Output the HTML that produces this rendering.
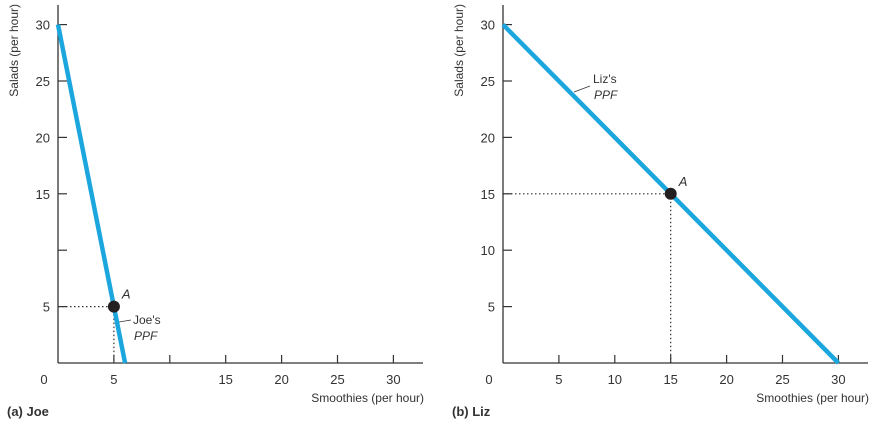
<!DOCTYPE html>
<html><head><meta charset="utf-8"><style>
body{margin:0;background:#fff}
svg text{font-family:"Liberation Sans",sans-serif;fill:#333}
</style></head><body>
<svg width="875" height="428" viewBox="0 0 875 428">
<g id="g"></g>
</svg>
<script>
const joeXTicks=[5,10,15,20,25,30];
const joeXLabels=["5","","15","20","25","30"];
const joeYTicks=[5,10,15,20,25,30];
const joeYLabels=["5","","15","20","25","30"];
const joePPF=[[0,30],[6,0]];
const joePoint=[5,5];
const lizXTicks=[5,10,15,20,25,30];
const lizXLabels=["5","10","15","20","25","30"];
const lizYTicks=[5,10,15,20,25,30];
const lizYLabels=["5","10","15","20","25","30"];
const lizPPF=[[0,30],[30,0]];
const lizPoint=[15,15];
const NS="http://www.w3.org/2000/svg";
const g=document.getElementById('g');
function mk(tag,attrs,parent){const e=document.createElementNS(NS,tag);for(const k in attrs)e.setAttribute(k,attrs[k]);(parent||g).appendChild(e);return e;}
function panel(p,ox,xend,xTicks,xLabels,yTicks,yLabels,ppf,pt,title,name,lbl){
  const oy=363,kx=11.18,ky=11.28;
  const X=v=>ox+v*kx, Y=v=>oy-v*ky;
  const grp=mk('g',{});
  
  
  const ya=mk('line',{x1:ox,y1:5,x2:ox,y2:oy,stroke:'#333','stroke-width':1.3},grp);
  
  const xa=mk('line',{x1:ox,y1:oy,x2:xend,y2:oy,stroke:'#333','stroke-width':1.3},grp);
  
  xTicks.forEach((v,i)=>{
    mk('line',{x1:X(v),y1:oy,x2:X(v),y2:oy-8,stroke:'#333','stroke-width':1.2},grp);
    const t=mk('text',{x:X(v),y:384,'text-anchor':'middle','font-size':13},grp);t.textContent=xLabels[i];
    
  });
  yTicks.forEach((v,i)=>{
    mk('line',{x1:ox,y1:Y(v),x2:ox+9,y2:Y(v),stroke:'#333','stroke-width':1.2},grp);
    const t=mk('text',{x:ox-8,y:Y(v)+5,'text-anchor':'end','font-size':13},grp);t.textContent=yLabels[i];
    
  });
  const z=mk('text',{x:ox-14,y:384,'text-anchor':'middle','font-size':13},grp);z.textContent='0';
  
  const xt=mk('text',{x:xend+1,y:402,'text-anchor':'end','font-size':12},grp);xt.textContent='Smoothies (per hour)';
  
  const yt=mk('text',{x:0,y:0,'text-anchor':'end','font-size':12,transform:`translate(${ox-40},4) rotate(-90)`},grp);yt.textContent='Salads (per hour)';
  
  const d1=mk('line',{x1:ox,y1:Y(pt[1]),x2:X(pt[0]),y2:Y(pt[1]),stroke:'#333','stroke-width':1.2,'stroke-dasharray':'1.5,2.5'},grp);
  
  const d2=mk('line',{x1:X(pt[0]),y1:Y(pt[1]),x2:X(pt[0]),y2:oy,stroke:'#333','stroke-width':1.2,'stroke-dasharray':'1.5,2.5'},grp);
  
  const l=mk('line',{x1:X(ppf[0][0]),y1:Y(ppf[0][1]),x2:X(ppf[1][0]),y2:Y(ppf[1][1]),stroke:'#1ba6de','stroke-width':4.5},grp);
  
  const c=mk('circle',{cx:X(pt[0]),cy:Y(pt[1]),r:6,fill:'#231f20'},grp);
  
  const a=mk('text',{x:X(pt[0])+8,y:Y(pt[1])-8,'font-size':13,'font-style':'italic'},grp);a.textContent='A';
  
  lbl(grp,X,Y);
  const tt=mk('text',{x:ox-51,y:416,'font-size':13,'font-weight':'bold'},grp);tt.textContent=title;
  
}
panel('joe',58,423,joeXTicks,joeXLabels,joeYTicks,joeYLabels,joePPF,joePoint,'(a) Joe','joe',(grp,X,Y)=>{
  mk('line',{x1:119,y1:322,x2:131,y2:320,stroke:'#333','stroke-width':0.8},grp);
  const t=mk('text',{x:133,y:324,'font-size':12},grp);t.textContent="Joe's";
  
  const t2=mk('text',{x:134,y:340,'font-size':12,'font-style':'italic'},grp);t2.textContent='PPF';
});
panel('liz',503,868,lizXTicks,lizXLabels,lizYTicks,lizYLabels,lizPPF,lizPoint,'(b) Liz','liz',(grp,X,Y)=>{
  mk('line',{x1:574,y1:92,x2:590,y2:86,stroke:'#333','stroke-width':0.8},grp);
  const t=mk('text',{x:593,y:83,'font-size':12},grp);t.textContent="Liz's";
  
  const t2=mk('text',{x:594,y:99,'font-size':12,'font-style':'italic'},grp);t2.textContent='PPF';
});
</script>
</body></html>
